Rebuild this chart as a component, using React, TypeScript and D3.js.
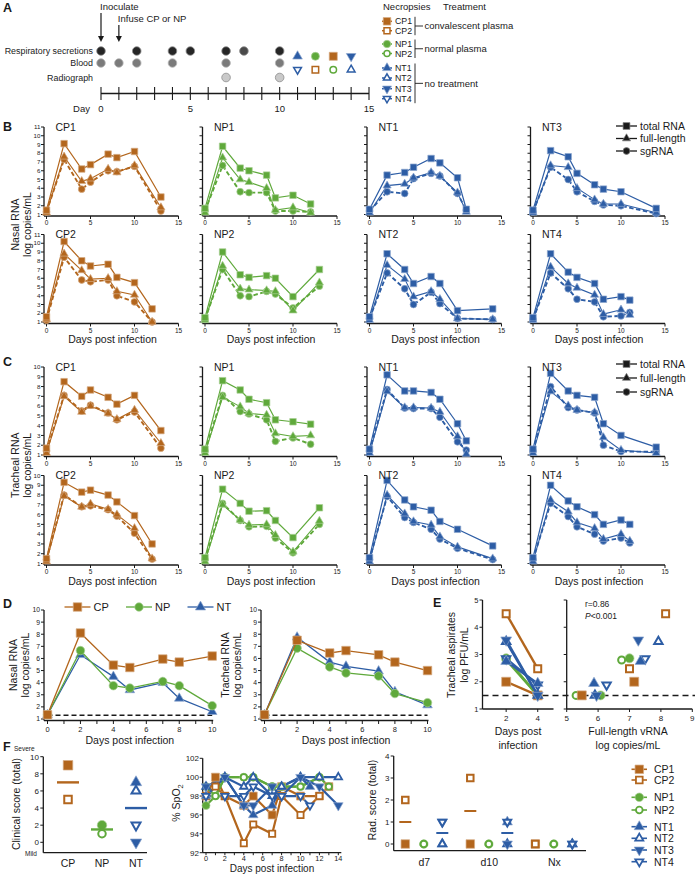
import React from 'react'
import * as d3 from 'd3'

const BROWN = '#B3661D'
const GREEN = '#5FA93B'
const BLUE = '#2D5DA5'
const INK = '#1a1a1a'
const FONT = 'Arial, "Liberation Sans", Helvetica, sans-serif'

type Shape = 'square' | 'circle' | 'up' | 'down'

// animals, in legend order
const ids = ['CP1', 'CP2', 'NP1', 'NP2', 'NT1', 'NT2', 'NT3', 'NT4']
const shapes: Shape[] = ['square', 'square', 'circle', 'circle', 'up', 'up', 'down', 'down']
const hollow = [false, true, false, true, false, true, false, true]
const colors = [BROWN, BROWN, GREEN, GREEN, BLUE, BLUE, BLUE, BLUE]
const groups = ['CP', 'CP', 'NP', 'NP', 'NT', 'NT', 'NT', 'NT']
const groupNames = ['CP', 'NP', 'NT']
const groupColors = [BROWN, GREEN, BLUE]
const groupShapes: Shape[] = ['square', 'circle', 'up']
const treatments = ['convalescent plasma', 'normal plasma', 'no treatment']

// A: study design
const respDays = [0, 2, 4, 5, 7, 8, 10]
const bloodDays = [0, 1, 2, 4, 7, 10]
const radioDays = [7, 10]
const necropsyDays = [13, 12, 12, 13, 11, 14, 14, 11]

// B / C: sampling days per animal
const sampleDays = [
  [0, 2, 4, 5, 7, 8, 10, 13],
  [0, 2, 4, 5, 7, 8, 10, 12],
  [0, 2, 4, 5, 7, 8, 10, 12],
  [0, 2, 4, 5, 7, 8, 10, 13],
  [0, 2, 4, 5, 7, 8, 10, 11],
  [0, 2, 4, 5, 7, 8, 10, 14],
  [0, 2, 4, 5, 7, 8, 10, 14],
  [0, 2, 4, 5, 7, 8, 10, 11],
]
const gridOrder = [
  ['CP1', 'NP1', 'NT1', 'NT3'],
  ['CP2', 'NP2', 'NT2', 'NT4'],
]
const seriesNames = ['total RNA', 'full-length', 'sgRNA']

// nasal RNA, rows: total, full-length, sgRNA
const nasalCP1 = [[1.5, 9.1, 6.2, 6.7, 7.9, 7.5, 8.2, 3.0], [1.2, 7.6, 4.8, 5.1, 6.2, 5.8, 6.6, 1.8], [1.3, 7.3, 3.9, 4.7, 6.0, 5.9, 6.5, 1.4]]
const nasalCP2 = [[1.6, 10.2, 8.0, 7.4, 7.6, 6.1, 5.5, 2.5], [1.3, 8.8, 6.9, 5.9, 6.0, 4.5, 4.1, 1.0], [1.2, 8.4, 5.8, 5.6, 5.8, 4.0, 3.3, 1.0]]
const nasalNP1 = [[1.7, 8.8, 6.3, 6.0, 5.5, 2.9, 3.2, 2.2], [1.2, 7.5, 5.0, 4.7, 4.0, 1.5, 1.8, 1.2], [1.4, 6.6, 3.6, 3.5, 3.5, 1.4, 1.4, 1.3]]
const nasalNP2 = [[1.5, 9.0, 6.4, 6.1, 6.3, 6.0, 3.9, 7.0], [1.2, 7.4, 4.8, 4.7, 4.6, 4.5, 2.3, 5.5], [1.3, 7.0, 4.0, 3.9, 4.5, 4.2, 2.6, 5.1]]
const nasalNT1 = [[1.6, 5.5, 5.8, 6.4, 7.4, 6.9, 5.2, 1.6], [1.2, 4.3, 4.5, 5.2, 5.8, 5.4, 3.5, 1.3], [1.4, 3.6, 3.4, 5.1, 5.7, 5.4, 3.4, 1.5]]
const nasalNT2 = [[1.6, 8.8, 7.0, 5.4, 6.2, 5.4, 2.3, 2.5], [1.2, 7.5, 5.9, 3.9, 4.5, 3.6, 1.4, 1.3], [1.4, 6.6, 4.8, 3.0, 4.4, 3.1, 1.4, 1.3]]
const nasalNT3 = [[1.5, 8.3, 7.6, 5.7, 4.4, 3.9, 3.6, 1.7], [1.2, 6.6, 6.4, 4.0, 2.7, 2.2, 2.2, 1.2], [1.3, 6.4, 5.0, 3.6, 2.5, 2.1, 2.0, 1.1]]
const nasalNT4 = [[1.5, 8.8, 6.7, 6.1, 5.4, 3.6, 3.9, 3.5], [1.2, 7.3, 5.4, 4.9, 4.1, 1.9, 2.4, 1.8], [1.3, 6.6, 4.8, 3.6, 3.3, 1.6, 1.7, 2.1]]
const nasal = [nasalCP1, nasalCP2, nasalNP1, nasalNP2, nasalNT1, nasalNT2, nasalNT3, nasalNT4]

// tracheal RNA, rows: total, full-length, sgRNA
const trachCP1 = [[1.7, 8.5, 7.0, 7.65, 6.9, 6.2, 7.1, 3.5], [1.2, 7.0, 5.4, 6.0, 5.25, 4.65, 5.6, 2.2], [1.4, 7.1, 5.5, 6.1, 5.3, 4.6, 5.4, 1.7]]
const trachCP2 = [[1.5, 9.3, 8.3, 8.5, 8.0, 7.3, 5.9, 3.0], [1.2, 7.9, 6.8, 7.1, 6.55, 6.0, 4.6, 1.5], [1.4, 8.0, 6.8, 6.9, 6.5, 5.85, 4.1, 1.45]]
const trachNP1 = [[1.6, 8.6, 7.65, 6.7, 6.35, 4.6, 4.4, 4.15], [1.2, 6.9, 5.95, 5.25, 5.1, 3.2, 2.9, 3.0], [1.4, 7.1, 5.45, 5.2, 4.6, 2.4, 2.75, 2.1]]
const trachNP2 = [[1.6, 8.6, 7.15, 6.35, 6.4, 5.4, 3.65, 6.7], [1.2, 7.0, 5.45, 4.95, 5.0, 3.9, 2.2, 5.35], [1.4, 7.15, 5.4, 4.75, 4.8, 3.6, 2.1, 5.0]]
const trachNT1 = [[1.6, 9.2, 7.55, 7.55, 7.4, 6.7, 4.2, 2.45], [1.2, 7.5, 5.85, 5.85, 5.8, 5.4, 2.9, 1.1], [1.4, 7.7, 5.8, 5.75, 5.75, 4.85, 2.35, 1.5]]
const trachNT2 = [[1.6, 9.5, 7.5, 6.8, 6.45, 5.3, 4.5, 2.8], [1.2, 8.0, 6.1, 5.3, 4.95, 3.75, 2.7, 1.5], [1.4, 7.85, 5.7, 5.2, 4.5, 3.5, 2.55, 1.4]]
const trachNT3 = [[1.6, 9.35, 7.55, 7.1, 6.9, 4.2, 3.0, 1.8], [1.2, 7.5, 6.05, 5.6, 5.35, 2.8, 1.5, 1.2], [1.4, 8.0, 5.85, 5.6, 5.3, 2.0, 1.35, 1.35]]
const trachNT4 = [[1.6, 9.0, 7.4, 6.8, 6.0, 5.0, 5.45, 5.0], [1.2, 7.5, 6.3, 5.2, 4.6, 3.5, 4.0, 3.3], [1.4, 7.15, 5.8, 4.75, 4.0, 3.3, 3.6, 3.1]]
const tracheal = [trachCP1, trachCP2, trachNP1, trachNP2, trachNT1, trachNT2, trachNT3, trachNT4]

// D: group means
const meanDays = [0, 2, 4, 5, 7, 8, 10]
const nasalMean = [
  [1.35, 8.1, 5.45, 5.25, 5.95, 5.7, 6.2],
  [1.35, 6.65, 3.75, 3.55, 4.1, 3.75, 2.1],
  [1.35, 6.3, 4.5, 3.4, 4.0, 2.7, 1.6],
]
const trachMean = [
  [1.35, 7.5, 6.45, 6.65, 6.3, 5.7, 5.0],
  [1.35, 6.85, 5.3, 4.8, 4.55, 3.1, 2.35],
  [1.35, 7.75, 5.7, 5.35, 4.95, 3.25, 2.15],
]
const rnaLod = 1.3

// E: infectious virus in tracheal aspirates, days 2 and 4
const pfuDays = [2, 4]
const pfu = [[2.0, 1.5], [4.5, 2.48], [2.86, 1.5], [2.8, 1.5], [2.75, 1.94], [3.47, 1.5], [3.53, 1.5], [2.85, 1.88]]
const vrna = [[7.15, 5.48], [8.15, 7.0], [7.0, 6.08], [6.75, 5.3], [7.35, 5.87], [7.92, 5.9], [7.28, 5.95], [7.5, 6.27]]
const pfuLod = 1.5

// F
const clinical = [9, 5, 2, 1, 7, 6, 0, 2]
const spoDays = [
  [0, 1, 2, 4, 5, 7, 8, 10, 12, 13],
  [0, 1, 2, 4, 5, 7, 8, 10, 12],
  [0, 1, 2, 4, 5, 7, 8, 10, 12],
  [0, 1, 2, 4, 5, 7, 8, 10, 12, 13],
  [0, 2, 4, 5, 7, 8, 10, 11],
  [0, 2, 4, 5, 7, 8, 10, 12, 14],
  [0, 2, 4, 5, 7, 8, 10, 12, 14],
  [0, 2, 4, 5, 7, 8, 10, 11],
]
const spo2 = [
  [98, 100, 98, 97, 98, 96, 99, 98, 98, 99],
  [98, 99, 98, 93, 95, 94, 98, 96, 98],
  [97, 98, 100, 100, 100, 99, 99, 99, 100],
  [99, 98, 100, 100, 100, 99, 99, 99, 100, 99],
  [98, 100, 97, 96, 97, 99, 100, 99],
  [99, 100, 99, 100, 98, 99, 100, 100, 100],
  [99, 100, 97, 97, 99, 98, 100, 99, 97],
  [98, 98, 98, 99, 98, 98, 98, 97],
]
const radTimes = ['d7', 'd10', 'Nx']
const radScore = [[0, 0, 0], [2, 3, 0], [0, 0, 0], [0, 0, 0], [0, 1, 0], [0, 0, 0], [1, 0, 0], [1, 1, 0]]

const lighten = (c: string, t = 0.45) => d3.interpolateRgb(c, '#ffffff')(t)

function symbolPath(shape: Shape, w: number) {
  if (shape === 'square') return d3.symbol().type(d3.symbolSquare).size(w * w)()
  if (shape === 'circle') return d3.symbol().type(d3.symbolCircle).size((Math.PI * w * w) / 4)()
  const s = w * 1.2
  return d3.symbol().type(d3.symbolTriangle).size((Math.sqrt(3) / 4) * s * s)()
}

function Mark({ shape, x, y, w, color, open = false, sw = 1.6 }: any) {
  const rot = shape === 'down' ? ' rotate(180)' : ''
  return (
    <path
      d={symbolPath(shape, open ? w - sw : w) as string}
      transform={`translate(${x},${y})${rot}`}
      fill={open ? '#fff' : color}
      stroke={open ? color : lighten(color)}
      strokeWidth={open ? sw : 0.7}
    />
  )
}

function VText({ x, y, size = 10.5, children }: any) {
  return (
    <text transform={`translate(${x},${y}) rotate(-90)`} textAnchor="middle" fontSize={size}>
      {children}
    </text>
  )
}

function PanelA() {
  const x = d3.scaleLinear().domain([0, 15]).range([101, 369])
  const axisY = 93.5
  const legendY = [21.3, 30.7, 44, 53.5, 68, 78, 88.7, 98.7]
  const rows = [
    { label: 'Respiratory secretions', days: respDays, y: 51, fill: '#262626', stroke: '#8a8a8a' },
    { label: 'Blood', days: bloodDays, y: 63, fill: '#7b7b7b', stroke: '#b5b5b5' },
    { label: 'Radiograph', days: radioDays, y: 77.5, fill: '#c9c9c9', stroke: '#8d8d8d' },
  ]
  return (
    <g fontSize={9.5}>
      <text x={3} y={12} fontSize={12.5} fontWeight="bold">A</text>
      <text x={x(0) - 1} y={10}>Inoculate</text>
      <line x1={x(0)} x2={x(0)} y1={13} y2={38} stroke={INK} strokeWidth={1.2} />
      <path d={`M${x(0) - 3},${36} L${x(0)},${42} L${x(0) + 3},${36} Z`} fill={INK} />
      <text x={x(1) - 1} y={22}>Infuse CP or NP</text>
      <line x1={x(1)} x2={x(1)} y1={25} y2={38} stroke={INK} strokeWidth={1.2} />
      <path d={`M${x(1) - 3},${36} L${x(1)},${42} L${x(1) + 3},${36} Z`} fill={INK} />
      {rows.map((r) => (
        <g key={r.label}>
          <text x={93} y={r.y + 3.2} textAnchor="end" fontSize={8.9}>{r.label}</text>
          {r.days.map((d) => (
            <circle key={d} cx={x(d)} cy={r.y} r={4.3} fill={d === 8 ? '#4a4a4a' : r.fill} stroke={r.stroke} strokeWidth={0.8} />
          ))}
        </g>
      ))}
      {ids.map((id, i) => (
        <Mark key={id} shape={shapes[i]} x={x(necropsyDays[i])} y={hollow[i] ? 69.7 : 56.3} w={8} color={colors[i]} open={hollow[i]} sw={1.5} />
      ))}
      <line x1={x(0)} x2={x(15)} y1={axisY} y2={axisY} stroke={INK} strokeWidth={1.5} />
      {x.ticks(15).map((t) => (
        <line key={t} x1={x(t)} x2={x(t)} y1={axisY - 6.5} y2={axisY + 6.5} stroke={INK} strokeWidth={1.1} />
      ))}
      {[0, 5, 10, 15].map((t) => (
        <text key={t} x={x(t)} y={112} textAnchor="middle">{t}</text>
      ))}
      <text x={90} y={112} textAnchor="end">Day</text>
      <text x={383} y={10}>Necropsies</text>
      <text x={443} y={10}>Treatment</text>
      {ids.map((id, i) => (
        <g key={id}>
          <line x1={382} x2={392} y1={legendY[i]} y2={legendY[i]} stroke={colors[i]} strokeWidth={1.5} />
          <Mark shape={shapes[i]} x={387} y={legendY[i]} w={7.5} color={colors[i]} open={hollow[i]} sw={1.5} />
          <text x={395} y={legendY[i] + 3.1} fontSize={8.8}>{id}</text>
        </g>
      ))}
      {groupNames.map((g) => {
        const idx = ids.map((_, i) => i).filter((i) => groups[i] === g)
        const y0 = legendY[idx[0]] - 4.5
        const y1 = legendY[idx[idx.length - 1]] + 4.5
        const ym = (y0 + y1) / 2
        return (
          <g key={g}>
            <line x1={415} x2={415} y1={y0} y2={y1} stroke={INK} strokeWidth={0.9} />
            <line x1={415} x2={423} y1={ym} y2={ym} stroke={INK} strokeWidth={0.9} />
            <text x={424.5} y={ym + 3.3}>{treatments[groupNames.indexOf(g)]}</text>
          </g>
        )
      })}
    </g>
  )
}

function RnaCell({ i, series, x0, yLow, yHigh, yMax, showYLabels, xTitle }: any) {
  const x = d3.scaleLinear().domain([0, 15]).range([x0, x0 + 132])
  const y = d3.scaleLinear().domain([1, yMax]).range([yLow, yHigh])
  const days = sampleDays[i]
  const color = colors[i]
  const line = d3
    .line<number>()
    .x((_, k) => x(days[k]))
    .y((v) => y(v))
  const axisY = yLow + 1.5
  const axisX = x0 - 2.5
  const yTicks = d3.range(1, yMax + 1)
  const markShapes: Shape[] = ['square', 'up', 'circle']
  return (
    <g>
      <line x1={axisX} x2={axisX} y1={axisY} y2={y(yMax)} stroke={INK} strokeWidth={1.3} />
      {yTicks.map((t) => (
        <line key={t} x1={axisX - 3} x2={axisX} y1={y(t)} y2={y(t)} stroke={INK} strokeWidth={1} />
      ))}
      {showYLabels &&
        yTicks.map((t) => (
          <text key={t} x={axisX - 3.5} y={y(t) + 2.2} fontSize={6.2} textAnchor="end">{t}</text>
        ))}
      <line x1={axisX} x2={x(15)} y1={axisY} y2={axisY} stroke={INK} strokeWidth={1.3} />
      {[0, 5, 10, 15].map((t) => (
        <g key={t}>
          <line x1={x(t)} x2={x(t)} y1={axisY} y2={axisY + 3} stroke={INK} strokeWidth={1} />
          <text x={x(t)} y={axisY + 9} fontSize={6.5} textAnchor="middle">{t}</text>
        </g>
      ))}
      <path d={line(series[2]) as string} fill="none" stroke={color} strokeWidth={1.9} strokeDasharray="4.5,2.5" />
      <path d={line(series[1]) as string} fill="none" stroke={color} strokeWidth={1.1} />
      <path d={line(series[0]) as string} fill="none" stroke={color} strokeWidth={1.2} />
      {[2, 1, 0].map((s) =>
        series[s].map((v: number, k: number) => (
          <Mark key={`${s}-${k}`} shape={markShapes[s]} x={x(days[k])} y={y(v)} w={s === 0 ? 6.5 : 6.8} color={color} />
        ))
      )}
      <text x={x0 + 9} y={yHigh + 3.5} fontSize={10.5}>{ids[i]}</text>
      {xTitle && (
        <text x={x(7.5)} y={axisY + 19.5} fontSize={10.5} textAnchor="middle">Days post infection</text>
      )}
    </g>
  )
}

function RnaGrid({ data, yMax, rowsY, legendY, legendGap, letter, letterY, title }: any) {
  const colX = [46.5, 205, 369.5, 533]
  const markShapes: Shape[] = ['square', 'up', 'circle']
  return (
    <g>
      <text x={3} y={letterY} fontSize={12.5} fontWeight="bold">{letter}</text>
      {gridOrder.map((row, r) =>
        row.map((id, c) => {
          const i = ids.indexOf(id)
          return (
            <RnaCell
              key={id}
              i={i}
              series={data[i]}
              x0={colX[c]}
              yLow={rowsY[r][0]}
              yHigh={rowsY[r][1]}
              yMax={yMax}
              showYLabels={c === 0}
              xTitle={r === 1}
            />
          )
        })
      )}
      <VText x={19} y={(rowsY[0][1] + rowsY[1][0]) / 2}>{title}</VText>
      <VText x={31} y={(rowsY[0][1] + rowsY[1][0]) / 2}>log copies/mL</VText>
      {seriesNames.map((s, k) => (
        <g key={s}>
          <line x1={616} x2={637} y1={legendY + k * legendGap} y2={legendY + k * legendGap} stroke={INK} strokeWidth={1.3} />
          <Mark shape={markShapes[k]} x={626.5} y={legendY + k * legendGap} w={6.8} color={INK} />
          <text x={640} y={legendY + k * legendGap + 3.7} fontSize={10.5}>{s}</text>
        </g>
      ))}
    </g>
  )
}

function MeanPlot({ x0, x1, data, title, titleX }: any) {
  const x = d3.scaleLinear().domain([0, 10]).range([x0, x1])
  const y = d3.scaleLinear().domain([1, 10]).range([719, 610])
  const line = d3
    .line<number>()
    .x((_, k) => x(meanDays[k]))
    .y((v) => y(v))
  const axisY = 720.5
  const axisX = x0 - 3.5
  return (
    <g>
      <line x1={axisX} x2={axisX} y1={axisY} y2={y(10)} stroke={INK} strokeWidth={1.3} />
      {y.ticks(10).map((t) => (
        <g key={t}>
          <line x1={axisX - 3} x2={axisX} y1={y(t)} y2={y(t)} stroke={INK} />
          <text x={axisX - 4} y={y(t) + 2.4} fontSize={6.8} textAnchor="end">{t}</text>
        </g>
      ))}
      <line x1={axisX} x2={x(10) + 1} y1={axisY} y2={axisY} stroke={INK} strokeWidth={1.3} />
      {x.ticks(10).map((t) => (
        <g key={t}>
          <line x1={x(t)} x2={x(t)} y1={axisY} y2={axisY + 3.5} stroke={INK} />
          {t % 2 === 0 && (
            <text x={x(t)} y={axisY + 11} fontSize={7.5} textAnchor="middle">{t}</text>
          )}
        </g>
      ))}
      <line x1={x(0)} x2={x(10)} y1={y(rnaLod)} y2={y(rnaLod)} stroke={INK} strokeWidth={1.5} strokeDasharray="5,3" />
      {[2, 1, 0].map((g) => (
        <g key={g}>
          <path d={line(data[g]) as string} fill="none" stroke={groupColors[g]} strokeWidth={1.3} />
          {data[g].map((v: number, k: number) => (
            <Mark key={k} shape={groupShapes[g]} x={x(meanDays[k])} y={y(v)} w={g === 2 ? 8 : 8.5} color={groupColors[g]} />
          ))}
        </g>
      ))}
      <VText x={titleX} y={665}>{title}</VText>
      <VText x={titleX + 12} y={665}>log copies/mL</VText>
      <text x={(x0 + x1) / 2} y={744} fontSize={10.5} textAnchor="middle">Days post infection</text>
    </g>
  )
}

function PanelD() {
  return (
    <g>
      <text x={3} y={608} fontSize={12.5} fontWeight="bold">D</text>
      {groupNames.map((g, k) => {
        const cx = 77.5 + k * 61.5
        return (
          <g key={g}>
            <line x1={cx - 13} x2={cx + 13} y1={607} y2={607} stroke={groupColors[k]} strokeWidth={1.3} />
            <Mark shape={groupShapes[k]} x={cx} y={607} w={8.5} color={groupColors[k]} />
            <text x={cx + 16} y={611} fontSize={11}>{g}</text>
          </g>
        )
      })}
      <MeanPlot x0={47.5} x1={212.2} data={nasalMean} title="Nasal RNA" titleX={17} />
      <MeanPlot x0={264.5} x1={427.5} data={trachMean} title="Tracheal RNA" titleX={229} />
    </g>
  )
}

function PanelE() {
  const y = d3.scaleLinear().domain([1, 5]).range([709, 600])
  const xl = d3.scaleLinear().domain([0.5, 5]).range([482.5, 553.5])
  const xr = d3.scaleLinear().domain([5, 9]).range([566.7, 692.3])
  const order = [2, 3, 0, 1, 5, 7, 4, 6]
  return (
    <g>
      <text x={433} y={607} fontSize={12.5} fontWeight="bold">E</text>
      <line x1={xl.range()[0]} x2={xl.range()[0]} y1={y(1)} y2={y(5)} stroke={INK} strokeWidth={1.3} />
      <line x1={xl.range()[0]} x2={xl.range()[1]} y1={y(1)} y2={y(1)} stroke={INK} strokeWidth={1.3} />
      {y.ticks(4).map((t) => (
        <g key={t}>
          <line x1={xl.range()[0] - 3} x2={xl.range()[0]} y1={y(t)} y2={y(t)} stroke={INK} />
          <text x={xl.range()[0] - 4} y={y(t) + 2.6} fontSize={7.5} textAnchor="end">{t}</text>
          <line x1={xr.range()[0] - 3} x2={xr.range()[0]} y1={y(t)} y2={y(t)} stroke={INK} />
        </g>
      ))}
      {pfuDays.map((d) => (
        <g key={d}>
          <line x1={xl(d)} x2={xl(d)} y1={y(1)} y2={y(1) + 3} stroke={INK} />
          <text x={xl(d)} y={y(1) + 11.5} fontSize={8} textAnchor="middle">{d}</text>
        </g>
      ))}
      <line x1={xr.range()[0]} x2={xr.range()[0]} y1={y(1)} y2={y(5)} stroke={INK} strokeWidth={1.3} />
      <line x1={xr.range()[0]} x2={xr.range()[1]} y1={y(1)} y2={y(1)} stroke={INK} strokeWidth={1.3} />
      {xr.ticks(4).map((t) => (
        <g key={t}>
          <line x1={xr(t)} x2={xr(t)} y1={y(1)} y2={y(1) + 3} stroke={INK} />
          <text x={xr(t)} y={y(1) + 11.5} fontSize={8} textAnchor="middle">{t}</text>
        </g>
      ))}
      <line x1={482.5} x2={695} y1={y(pfuLod)} y2={y(pfuLod)} stroke={INK} strokeWidth={1.5} strokeDasharray="6,4" />
      {order.map((i) => (
        <g key={ids[i]}>
          <path
            d={d3.line<number>().x((_, k) => xl(pfuDays[k])).y((v) => y(v))(pfu[i]) as string}
            fill="none"
            stroke={colors[i]}
            strokeWidth={2.4}
          />
          {pfu[i].map((v, k) => (
            <Mark key={k} shape={shapes[i]} x={xl(pfuDays[k])} y={y(v)} w={9} color={colors[i]} open={hollow[i]} sw={2} />
          ))}
        </g>
      ))}
      {order.map((i) =>
        vrna[i].map((v, k) => (
          <Mark key={`${i}-${k}`} shape={shapes[i]} x={xr(v)} y={y(pfu[i][k])} w={9} color={colors[i]} open={hollow[i]} sw={2} />
        ))
      )}
      <text x={585} y={607} fontSize={8.5}>r=0.86</text>
      <text x={585} y={618.5} fontSize={8.5}>
        <tspan fontStyle="italic">P</tspan>&lt;0.001
      </text>
      <VText x={455} y={655}>Tracheal aspirates</VText>
      <VText x={468} y={655}>log PFU/mL</VText>
      <text x={518} y={735} fontSize={10.5} textAnchor="middle">Days post</text>
      <text x={518} y={749} fontSize={10.5} textAnchor="middle">infection</text>
      <text x={628} y={735} fontSize={10.5} textAnchor="middle">Full-length vRNA</text>
      <text x={628} y={749} fontSize={10.5} textAnchor="middle">log copies/mL</text>
    </g>
  )
}

function PanelF() {
  // clinical score
  const yc = d3.scaleLinear().domain([0, 10]).range([842.3, 756.7])
  const xc = d3.scalePoint<string>().domain(groupNames).range([68, 136])
  // SpO2
  const xs = d3.scaleLinear().domain([0, 14]).range([206, 338.3])
  const ys = d3.scaleLinear().domain([92, 102]).range([852.7, 758.3])
  // radiograph score
  const yr = d3.scaleLinear().domain([0, 4]).range([844, 756])
  const xr = d3.scalePoint<string>().domain(radTimes).range([424.3, 554.3])
  const off = d3.scalePoint<string>().domain(groupNames).range([-19, 18])
  const idxOf = (g: string) => ids.map((_, i) => i).filter((i) => groups[i] === g)
  const legendY = [769.3, 780, 797.3, 810, 826.7, 838.3, 850, 861.7]
  return (
    <g>
      <text x={3} y={751} fontSize={12.5} fontWeight="bold">F</text>
      {/* clinical */}
      <text x={14} y={750.5} fontSize={6.5}>Severe</text>
      <text x={25} y={855.5} fontSize={6.5}>Mild</text>
      <line x1={43.3} x2={43.3} y1={852.7} y2={yc(10)} stroke={INK} strokeWidth={1.3} />
      <line x1={43.3} x2={147} y1={852.7} y2={852.7} stroke={INK} strokeWidth={1.3} />
      {yc.ticks(5).map((t) => (
        <g key={t}>
          <line x1={40.3} x2={43.3} y1={yc(t)} y2={yc(t)} stroke={INK} />
          <text x={39} y={yc(t) + 2.8} fontSize={8} textAnchor="end">{t}</text>
        </g>
      ))}
      {groupNames.map((g) => {
        const idx = idxOf(g)
        const med = d3.median(idx.map((i) => clinical[i])) as number
        return (
          <g key={g}>
            <text x={xc(g)} y={867} fontSize={10.5} textAnchor="middle">{g}</text>
            {idx.map((i) => (
              <Mark key={i} shape={shapes[i]} x={xc(g)} y={yc(clinical[i])} w={9.5} color={colors[i]} open={hollow[i]} sw={2} />
            ))}
            <line x1={(xc(g) as number) - 11} x2={(xc(g) as number) + 11} y1={yc(med)} y2={yc(med)} stroke={groupColors[groupNames.indexOf(g)]} strokeWidth={2.4} />
          </g>
        )
      })}
      <VText x={20} y={804}>Clinical score (total)</VText>
      {/* SpO2 */}
      <line x1={202.7} x2={202.7} y1={852.7} y2={ys(102)} stroke={INK} strokeWidth={1.3} />
      <line x1={202.7} x2={xs(14) + 3} y1={852.7} y2={852.7} stroke={INK} strokeWidth={1.3} />
      {d3.range(92, 103, 2).map((t) => (
        <g key={t}>
          <line x1={199.7} x2={202.7} y1={ys(t)} y2={ys(t)} stroke={INK} />
          <text x={199} y={ys(t) + 2.8} fontSize={8} textAnchor="end">{t}</text>
        </g>
      ))}
      {xs.ticks(14).map((t) => (
        <g key={t}>
          <line x1={xs(t)} x2={xs(t)} y1={852.7} y2={855.2} stroke={INK} />
          {t % 2 === 0 && (
            <text x={xs(t)} y={860.8} fontSize={7.3} textAnchor="middle">{t}</text>
          )}
        </g>
      ))}
      {ids.map((id, i) => (
        <path
          key={id}
          d={d3.line<number>().x((_, k) => xs(spoDays[i][k])).y((v) => ys(v))(spo2[i]) as string}
          fill="none"
          stroke={colors[i]}
          strokeWidth={2.2}
        />
      ))}
      {ids.map((id, i) =>
        spo2[i].map((v, k) => (
          <Mark key={`${id}-${k}`} shape={shapes[i]} x={xs(spoDays[i][k])} y={ys(v)} w={8} color={colors[i]} open={hollow[i]} sw={1.8} />
        ))
      )}
      <text transform="translate(180,803) rotate(-90)" textAnchor="middle" fontSize={10.5}>
        % SpO<tspan fontSize={7.5} dy={3}>2</tspan>
      </text>
      <text x={272} y={871.5} fontSize={10} textAnchor="middle">Days post infection</text>
      {/* radiograph */}
      <line x1={393.7} x2={393.7} y1={850.7} y2={yr(4)} stroke={INK} strokeWidth={1.3} />
      <line x1={393.7} x2={586} y1={850.7} y2={850.7} stroke={INK} strokeWidth={1.3} />
      {yr.ticks(4).map((t) => (
        <g key={t}>
          <line x1={390.7} x2={393.7} y1={yr(t)} y2={yr(t)} stroke={INK} />
          <text x={389.5} y={yr(t) + 2.8} fontSize={8} textAnchor="end">{t}</text>
        </g>
      ))}
      {radTimes.map((t, j) => (
        <g key={t}>
          <text x={xr(t)} y={865.5} fontSize={10.5} textAnchor="middle">{t}</text>
          {groupNames.map((g, gi) => {
            const idx = idxOf(g)
            const cx = (xr(t) as number) + (off(g) as number)
            const med = d3.median(idx.map((i) => radScore[i][j])) as number
            return (
              <g key={g}>
                {idx.map((i) => (
                  <Mark key={i} shape={shapes[i]} x={cx} y={yr(radScore[i][j])} w={8.5} color={colors[i]} open={hollow[i]} sw={2} />
                ))}
                {med > 0 && (
                  <line x1={cx - 6} x2={cx + 6} y1={yr(med)} y2={yr(med)} stroke={groupColors[gi]} strokeWidth={2} />
                )}
              </g>
            )
          })}
        </g>
      ))}
      <VText x={376} y={800}>Rad. score (total)</VText>
      {/* legend */}
      {ids.map((id, i) => (
        <g key={id}>
          <line x1={631.5} x2={647} y1={legendY[i]} y2={legendY[i]} stroke={colors[i]} strokeWidth={1.6} />
          <Mark shape={shapes[i]} x={639.3} y={legendY[i]} w={8.5} color={colors[i]} open={hollow[i]} sw={1.8} />
          <text x={654} y={legendY[i] + 3.8} fontSize={10.5}>{id}</text>
        </g>
      ))}
    </g>
  )
}

export default function App() {
  return (
    <svg
      width={696}
      height={875}
      style={{ position: 'absolute', left: 0, top: 0, background: '#fff' }}
      fontFamily={FONT}
      fill={INK}
    >
      <PanelA />
      <RnaGrid
        data={nasal}
        yMax={11}
        rowsY={[[214.5, 127], [322, 234.5]]}
        legendY={126}
        legendGap={12.5}
        letter="B"
        letterY={131}
        title="Nasal RNA"
      />
      <RnaGrid
        data={tracheal}
        yMax={10}
        rowsY={[[455, 367], [563.5, 475.5]]}
        legendY={364}
        legendGap={14}
        letter="C"
        letterY={366}
        title="Tracheal RNA"
      />
      <PanelD />
      <PanelE />
      <PanelF />
    </svg>
  )
}
